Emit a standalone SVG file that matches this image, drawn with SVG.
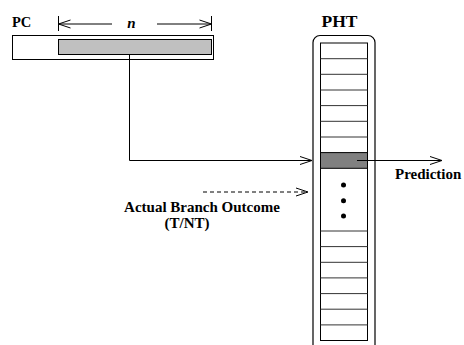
<svg xmlns="http://www.w3.org/2000/svg" width="464" height="345" viewBox="0 0 464 345">
<style>
.t{font-family:"Liberation Serif","Times New Roman",serif;font-weight:bold;fill:#000}
.ln{stroke:#000;stroke-width:1;fill:none}
.row{stroke:#333;stroke-width:1}
</style>
<defs>
<marker id="ah" markerUnits="userSpaceOnUse" markerWidth="14" markerHeight="10" refX="12" refY="4" orient="auto" overflow="visible">
<path d="M0,0 L12,4 L0,8" fill="none" stroke="#000" stroke-width="1"/>
</marker>
</defs>
<rect width="464" height="345" fill="#fff"/>
<g id="pc">
<text class="t" x="12" y="27" font-size="14.5">PC</text>
<rect x="12.5" y="35.5" width="201" height="24" fill="#fff" stroke="#000"/>
<rect x="58.5" y="39.5" width="153" height="15" fill="#c0c0c0" stroke="#000"/>
</g>
<g id="dim-n">
<line class="ln" x1="58.5" y1="16" x2="58.5" y2="31"/>
<line class="ln" x1="211.5" y1="16" x2="211.5" y2="31"/>
<line class="ln" x1="112" y1="24" x2="58.5" y2="24" marker-end="url(#ah)"/>
<line class="ln" x1="157" y1="24" x2="211.5" y2="24" marker-end="url(#ah)"/>
<text class="t" x="131.5" y="28" font-size="15" font-style="italic" text-anchor="middle">n</text>
</g>
<g id="pht">
<text class="t" x="339.5" y="27" font-size="17.5" text-anchor="middle">PHT</text>
<rect x="313" y="35.5" width="62" height="330" rx="7" fill="#fff" stroke="#000" stroke-width="1.2"/>
<rect x="320.5" y="43" width="47" height="297.5" fill="#fff" stroke="#000"/>
<rect x="320.5" y="152.6" width="47" height="15.7" fill="#808080" stroke="#000"/>
<g class="row">
<line x1="320.5" y1="58.7" x2="367.5" y2="58.7"/>
<line x1="320.5" y1="74.3" x2="367.5" y2="74.3"/>
<line x1="320.5" y1="90" x2="367.5" y2="90"/>
<line x1="320.5" y1="105.6" x2="367.5" y2="105.6"/>
<line x1="320.5" y1="121.3" x2="367.5" y2="121.3"/>
<line x1="320.5" y1="137" x2="367.5" y2="137"/>
<line x1="320.5" y1="231" x2="367.5" y2="231"/>
<line x1="320.5" y1="246.6" x2="367.5" y2="246.6"/>
<line x1="320.5" y1="262.3" x2="367.5" y2="262.3"/>
<line x1="320.5" y1="277.9" x2="367.5" y2="277.9"/>
<line x1="320.5" y1="293.6" x2="367.5" y2="293.6"/>
<line x1="320.5" y1="309.2" x2="367.5" y2="309.2"/>
<line x1="320.5" y1="324.9" x2="367.5" y2="324.9"/>
</g>
<circle cx="343.5" cy="185" r="2.5" fill="#000"/>
<circle cx="343.5" cy="200.7" r="2.5" fill="#000"/>
<circle cx="343.5" cy="216" r="2.5" fill="#000"/>
</g>
<g id="labels">
<text class="t" x="395" y="178.5" font-size="15">Prediction</text>
<text class="t" x="202" y="211.5" font-size="15" text-anchor="middle">Actual Branch Outcome</text>
<text class="t" x="187" y="227.5" font-size="15" text-anchor="middle">(T/NT)</text>
</g>
<g id="connectors">
<polyline class="ln" points="129.5,55 129.5,160.5 312,160.5" marker-end="url(#ah)"/>
<line class="ln" x1="357" y1="160.5" x2="442" y2="160.5" marker-end="url(#ah)"/>
<line class="ln" x1="203" y1="192" x2="308" y2="192" stroke-dasharray="4,3" marker-end="url(#ah)"/>
</g>
</svg>
